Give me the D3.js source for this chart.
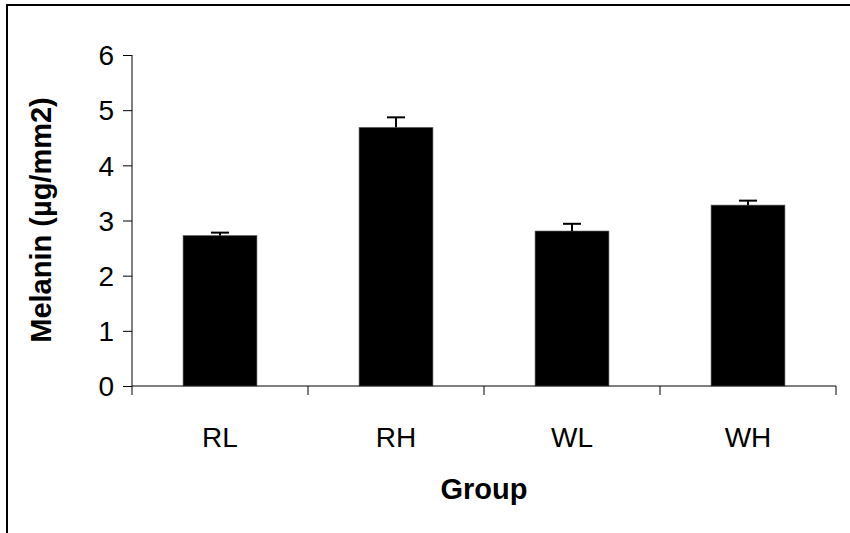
<!DOCTYPE html>
<html><head><meta charset="utf-8">
<script src="https://cdn.jsdelivr.net/npm/d3@7"></script>
<style>body{margin:0;background:#fff}svg{display:block}</style>
</head><body>
<script>
const categories = ["RL","RH","WL","WH"];
const values = [2.73, 4.69, 2.81, 3.28];
const errors = [0.05, 0.18, 0.13, 0.08];
const yTicks = [0,1,2,3,4,5,6];

const W=850,H=533;
const FONT="Liberation Sans, Arial, sans-serif";
const svg=d3.select("body").append("svg").attr("width",W).attr("height",H);
// frame
svg.append("line").attr("x1",6).attr("x2",W).attr("y1",5).attr("y2",5).attr("stroke","#000").attr("stroke-width",2);
svg.append("line").attr("x1",7).attr("x2",7).attr("y1",4).attr("y2",H).attr("stroke","#000").attr("stroke-width",2);

const x0=132,x1=836,yTop=55,yBot=386;
const x=d3.scaleBand().domain(categories).range([x0,x1]).paddingInner(0.58).paddingOuter(0.29);
const y=d3.scaleLinear().domain([0,6]).range([yBot,yTop]);

svg.selectAll("rect.bar").data(categories).join("rect").attr("class","bar")
 .attr("x",d=>x(d)).attr("width",x.bandwidth())
 .attr("y",(d,i)=>y(values[i])).attr("height",(d,i)=>yBot-y(values[i]))
 .attr("fill","#000").attr("stroke","#777").attr("stroke-width",0.6);

const eg=svg.append("g").attr("stroke","#000").attr("stroke-width",2);
categories.forEach((c,i)=>{
  const cx=x(c)+x.bandwidth()/2;
  eg.append("line").attr("x1",cx).attr("x2",cx).attr("y1",y(values[i])).attr("y2",y(values[i]+errors[i]));
  eg.append("line").attr("x1",cx-9).attr("x2",cx+9).attr("y1",y(values[i]+errors[i])).attr("y2",y(values[i]+errors[i]));
});

// y axis
const ya=svg.append("g").attr("transform",`translate(${x0},0)`)
 .call(d3.axisLeft(y).tickValues(yTicks).tickSize(9).tickSizeOuter(0).tickPadding(9).tickFormat(d3.format("d")));
ya.select(".domain").attr("stroke","#000").attr("d",`M0,${yTop}V${yBot+9}`);
ya.selectAll(".tick line").attr("stroke","#000");
ya.selectAll("text").attr("font-family",FONT).attr("font-size",28).attr("fill","#000").attr("dy","0.35em");

// x axis
const xa=svg.append("g").attr("transform",`translate(0,${yBot})`);
xa.append("line").attr("x1",x0).attr("x2",x1).attr("y1",0).attr("y2",0).attr("stroke","#000");
const step=x.step();
categories.forEach((c,i)=>{
  const tx=x0+step*(i+1);
  xa.append("line").attr("x1",tx).attr("x2",tx).attr("y1",0).attr("y2",9).attr("stroke","#000");
  xa.append("text").attr("x",x(c)+x.bandwidth()/2).attr("y",61).attr("text-anchor","middle")
   .attr("font-family",FONT).attr("font-size",28).text(c);
});

svg.append("text").attr("x",484).attr("y",499).attr("text-anchor","middle")
 .attr("font-family",FONT).attr("font-size",29).attr("font-weight","bold").text("Group");
svg.append("text").attr("transform","translate(51,220) rotate(-90)").attr("text-anchor","middle")
 .attr("font-family",FONT).attr("font-size",29).attr("font-weight","bold").text("Melanin (µg/mm2)");
</script>
</body></html>
